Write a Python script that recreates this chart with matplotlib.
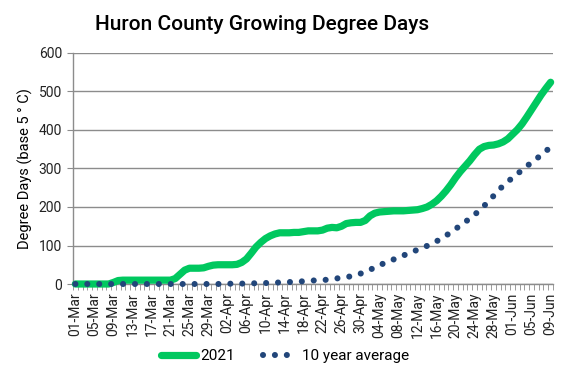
import matplotlib
matplotlib.use("Agg")
import matplotlib.pyplot as plt
import pandas as pd
import numpy as np

plt.rcParams['font.family'] = ['Roboto', 'DejaVu Sans']

dates = pd.date_range('2021-03-01', '2021-06-09').strftime('%d-%b').tolist()

gdd_2021 = [0, 0, 0, 0, 0, 0, 0, 0, 4, 9,
            10, 10, 10, 10, 10, 10, 10, 10, 10, 10,
            10, 14, 25, 36, 41, 41, 41, 42, 46, 49,
            50, 50, 50, 50, 51, 56, 65, 80, 96, 108,
            118, 125, 130, 133, 133, 133, 134, 134, 136, 138,
            138, 138, 140, 145, 147, 146, 150, 157, 159, 160,
            160, 165, 177, 184, 187, 188, 189, 190, 190, 190,
            191, 192, 193, 196, 200, 207, 216, 228, 242, 258,
            276, 292, 306, 320, 336, 350, 357, 360, 361, 364,
            369, 377, 389, 401, 416, 434, 453, 472, 491, 508,
            524]

gdd_10yr = [0, 0, 0, 0, 0, 0, 0, 0, 0, 0,
            0, 0, 0, 0, 0, 0, 0, 0, 0, 0,
            0, 0, 0, 0, 0, 0, 0, 0, 0, 0,
            0, 0.5, 0.5, 1, 1, 1, 1.5, 1.5, 2, 2,
            2.5, 3, 3.5, 4, 4.5, 5, 6, 6.5, 7, 8,
            9, 10, 10.5, 11, 13, 14.5, 16, 18, 20, 23,
            27, 32, 37, 43, 49, 54, 59, 64, 69, 74,
            79, 84, 89, 94, 99, 105, 111, 118, 126, 134,
            143, 152, 161, 170, 180, 191, 203, 215, 229, 243,
            255, 266, 276, 286, 296, 306, 316, 325, 335, 345,
            356]

y_ticks = [0, 100, 200, 300, 400, 500, 600]

W, H = 567, 378
fig = plt.figure(figsize=(W / 100, H / 100), dpi=100)
ax = fig.add_axes([73 / W, 1 - 284 / H, (553 - 73) / W, (284 - 53) / H])

x = np.arange(len(dates))
ax.plot(x, gdd_2021, color='#00C85F', lw=5.2, solid_capstyle='round',
        solid_joinstyle='round', label='2021', zorder=4, clip_on=False)
ax.plot(x, gdd_10yr, color='#22467A', lw=4.4, linestyle=(0, (0.001, 1.95)),
        dash_capstyle='round', label='10 year average', zorder=5, clip_on=False)

ax.set_xlim(-0.5, len(dates) - 0.5)
ax.set_ylim(0, 600)
ax.set_yticks(y_ticks)
ax.set_yticklabels([str(v) for v in y_ticks], fontsize=10, color='#222222')
ax.grid(axis='y', color='#8C8C8C', lw=1)
ax.set_axisbelow(True)
ax.tick_params(axis='y', length=4, color='#8C8C8C', pad=4)

ax.set_xticks(x[::4])
ax.set_xticklabels(dates[::4], rotation=90, fontsize=10, color='#222222')
ax.set_xticks(np.arange(-0.5, len(dates), 1), minor=True)
ax.tick_params(axis='x', which='major', length=0, pad=6)
ax.tick_params(axis='x', which='minor', length=4, color='#8C8C8C', direction='out')

for s in ['top', 'right']:
    ax.spines[s].set_visible(False)
for s in ['left', 'bottom']:
    ax.spines[s].set_color('#8C8C8C')
    ax.spines[s].set_linewidth(1)

ax.set_ylabel('Degree Days (base 5 ° C)', fontsize=10.5, labelpad=4)

fig.text(262 / W, 1 - 25 / H, 'Huron County Growing Degree Days', ha='center', va='center',
         fontsize=15, fontweight='medium')

handles, labels = ax.get_legend_handles_labels()
leg = fig.legend(handles, labels, loc='center', bbox_to_anchor=(285 / W, 1 - 356 / H),
                 ncol=2, frameon=False, fontsize=11, handlelength=2.3, columnspacing=1.8,
                 handletextpad=0.3)

fig.savefig('out.png', dpi=100)
